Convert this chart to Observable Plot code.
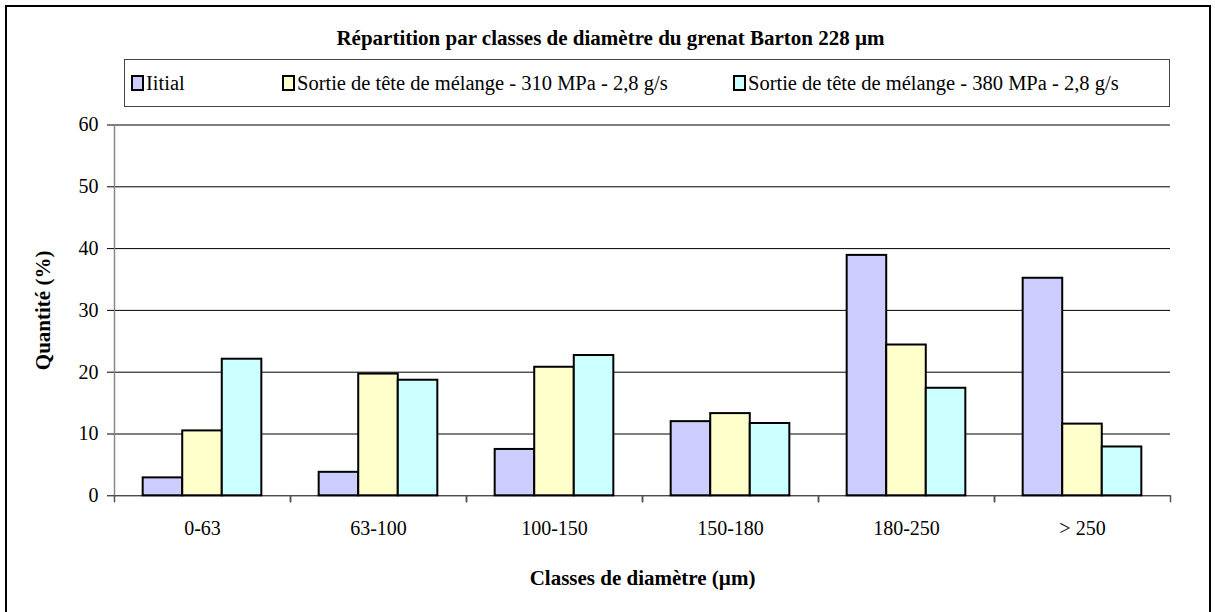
<!DOCTYPE html>
<html>
<head>
<meta charset="utf-8">
<script src="https://cdn.jsdelivr.net/npm/d3@7"></script>
<script src="https://cdn.jsdelivr.net/npm/@observablehq/plot@0.6"></script>
<style>
  html, body { margin: 0; padding: 0; background: #fff; }
  #page { position: relative; width: 1215px; height: 612px; overflow: hidden; font-family: 'Liberation Serif', 'Tinos', 'Times New Roman', 'DejaVu Serif', serif; color: #000; }
  #frame { position: absolute; left: 5px; top: 5px; width: 1202px; height: 606px; border: 2px solid #000; box-sizing: content-box; }
  #title { position: absolute; left: 0; width: 1221px; top: 26px; text-align: center; font-weight: bold; font-size: 21px; line-height: 24px; white-space: nowrap; }
  #legend { position: absolute; left: 124px; top: 59px; width: 1044px; height: 46px; border: 1px solid #444; }
  .item { position: absolute; top: 0; height: 46px; display: flex; align-items: center; font-size: 20.5px; white-space: nowrap; }
  .sw { width: 9px; height: 12px; border: 2px solid #000; margin-right: 2px; box-sizing: content-box; }
  #chart { position: absolute; left: 0; top: 100px; }
  #chart svg, #chart svg text { font-family: 'Liberation Serif', 'Tinos', 'Times New Roman', 'DejaVu Serif', serif !important; }
  #chart g[aria-label$="axis label"] { font-weight: bold; font-size: 21px; }
</style>
</head>
<body>
<div id="page">
  <div id="frame"></div>
  <div id="title"></div>
  <div id="legend"></div>
  <div id="chart"></div>
</div>
<script>
// ---- data ----
const categories = ["0-63", "63-100", "100-150", "150-180", "180-250", "> 250"];
const series = [
  "Iitial",
  "Sortie de tête de mélange - 310 MPa - 2,8 g/s",
  "Sortie de tête de mélange - 380 MPa - 2,8 g/s"
];
const initialValues = [2.9, 3.8, 7.5, 12.0, 38.9, 35.2];
const values310 = [10.5, 19.7, 20.8, 13.3, 24.4, 11.6];
const values380 = [22.1, 18.7, 22.7, 11.7, 17.4, 7.9];
const yTicks = [0, 10, 20, 30, 40, 50, 60];
const colors = ["#CCCCFF", "#FFFFCC", "#CCFFFF"];
const titleText = "Répartition par classes de diamètre du grenat Barton 228 µm";
const xLabel = "Classes de diamètre (µm)";
const yLabel = "Quantité (%)";

// long table built from the arrays
const seriesValues = [initialValues, values310, values380];
const rows = [];
categories.forEach((c, i) => {
  series.forEach((s, j) => rows.push({category: c, series: s, value: seriesValues[j][i]}));
});

// ---- title & legend ----
document.getElementById("title").textContent = titleText;
const legendX = [6, 157, 608];
const legend = document.getElementById("legend");
series.forEach((s, j) => {
  const it = document.createElement("div");
  it.className = "item";
  it.style.left = legendX[j] + "px";
  const sw = document.createElement("span");
  sw.className = "sw";
  sw.style.background = colors[j];
  const tx = document.createElement("span");
  tx.textContent = s;
  it.appendChild(sw);
  it.appendChild(tx);
  legend.appendChild(it);
});

// ---- chart ----
const tickShape = {draw(context, l) { context.moveTo(0, 0); context.lineTo(0, -l); }};

const chart = Plot.plot({
  width: 1215,
  height: 512,
  marginTop: 24.5,
  marginBottom: 116.7,
  marginLeft: 114,
  marginRight: 45,
  style: {fontFamily: "'Liberation Serif', 'Tinos', 'Times New Roman', 'DejaVu Serif', serif", fontSize: "20px", color: "#000", background: "transparent", overflow: "visible"},
  fx: {domain: categories, padding: 0},
  x: {domain: series, paddingInner: 0, paddingOuter: 0.725, round: false, axis: null},
  y: {domain: [0, 60]},
  color: {domain: series, range: colors},
  marks: [
    Plot.gridY(yTicks, {stroke: "#000", strokeOpacity: 1, strokeWidth: 1}),
    Plot.frame({anchor: "left", facetAnchor: "left", stroke: "#888", strokeWidth: 1.5}),
    Plot.barY(rows, {fx: "category", x: "series", y: "value", fill: "series", stroke: "#000", strokeWidth: 2}),
    Plot.axisY({ticks: yTicks, tickSize: 7, tickPadding: 9, label: yLabel, labelAnchor: "center", labelArrow: "none", labelOffset: 79, stroke: "#000"}),
    Plot.axisFx({anchor: "bottom", tickSize: 0, tickPadding: 25, label: xLabel, labelAnchor: "center", labelArrow: "none", labelOffset: 89}),
    Plot.vector([0], {frameAnchor: "bottom-left", length: 6, rotate: 180, anchor: "start", shape: tickShape, stroke: "#555", strokeWidth: 1.5}),
    Plot.vector([0], {frameAnchor: "bottom-right", length: 6, rotate: 180, anchor: "start", shape: tickShape, stroke: "#555", strokeWidth: 1.5})
  ]
});
document.getElementById("chart").appendChild(chart);
</script>
</body>
</html>
